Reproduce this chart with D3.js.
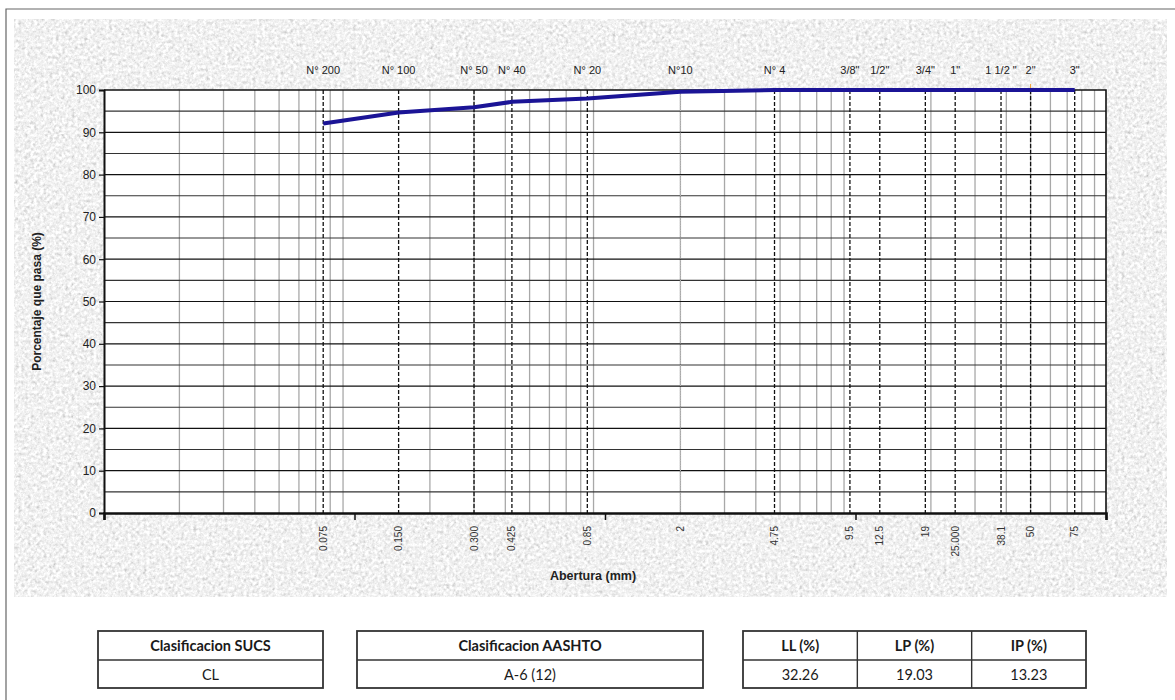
<!DOCTYPE html>
<html>
<head>
<meta charset="utf-8">
<script src="https://cdn.jsdelivr.net/npm/d3@7"></script>
<style>
  body { margin: 0; background: #fff; }
  svg { display: block; }
</style>
</head>
<body>
<svg id="chart" width="1175" height="700"></svg>
<script>
// sieve data
const sieveNames = ['N° 200', 'N° 100', 'N° 50', 'N° 40', 'N° 20', 'N°10', 'N° 4',
    '3/8"', '1/2"', '3/4"', '1"', '1 1/2 "', '2"', '3"'];
const sieveSizes = [0.075, 0.150, 0.300, 0.425, 0.85, 2, 4.75, 9.5, 12.5, 19, 25, 38.1, 50, 75];
const sizeLabels = ['0.075', '0.150', '0.300', '0.425', '0.85', '2', '4.75', '9.5', '12.5',
    '19', '25.000', '38.1', '50', '75'];
const passing = [92.1, 94.7, 95.9, 97.2, 98.0, 99.6, 100, 100, 100, 100, 100, 100, 100, 100];

const yTicks = [0, 10, 20, 30, 40, 50, 60, 70, 80, 90, 100];
const yHalfTicks = [5, 15, 25, 35, 45, 55, 65, 75, 85, 95];

// classification tables
const sucsHeader = ['Clasificacion SUCS'];
const sucsValue = ['CL'];
const aashtoHeader = ['Clasificacion AASHTO'];
const aashtoValue = ['A-6 (12)'];
const limitsHeader = ['LL (%)', 'LP (%)', 'IP (%)'];
const limitsValue = ['32.26', '19.03', '13.23'];

const svg = d3.select('#chart');
const font = 'Liberation Sans, Arial, sans-serif';

// granite-like background
const defs = svg.append('defs');
const filt = defs.append('filter').attr('id', 'granite')
    .attr('x', 0).attr('y', 0).attr('width', '100%').attr('height', '100%');
filt.append('feTurbulence').attr('type', 'fractalNoise')
    .attr('baseFrequency', 0.32).attr('numOctaves', 4).attr('seed', 7);
filt.append('feColorMatrix').attr('type', 'matrix')
    .attr('values', '0.33 0.33 0.33 0 0  0.33 0.33 0.33 0 0  0.33 0.33 0.33 0 0  0 0 0 0 1');
const ct = filt.append('feComponentTransfer');
['feFuncR', 'feFuncG', 'feFuncB'].forEach(f => {
    ct.append(f).attr('type', 'linear').attr('slope', 1.15).attr('intercept', 0.31);
});

// outer frame (top + left)
svg.append('path').attr('d', 'M6,700 V9 H1175')
    .attr('fill', 'none').attr('stroke', '#666').attr('stroke-width', 1.2);

svg.append('rect').attr('x', 14).attr('y', 19).attr('width', 1153).attr('height', 578)
    .attr('fill', '#e6e6e6').attr('filter', 'url(#granite)');

const x = d3.scaleLog().domain([0.01, 100]).range([104, 1106]);
const y = d3.scaleLinear().domain([0, 100]).range([513, 90]);

const plot = svg.append('g');
plot.append('rect').attr('x', x(0.01)).attr('y', y(100))
    .attr('width', x(100) - x(0.01)).attr('height', y(0) - y(100)).attr('fill', '#fff');

// minor vertical grid
const minor = x.ticks().filter(v => {
    const m = v / Math.pow(10, Math.floor(Math.log10(v) + 1e-9));
    return Math.round(m) !== 1;
});
plot.append('g').selectAll('line').data(minor).join('line')
    .attr('x1', d => x(d)).attr('x2', d => x(d))
    .attr('y1', y(100)).attr('y2', y(0))
    .attr('stroke', '#a8a8a8').attr('stroke-width', 1.3);

// horizontal grid
plot.append('g').selectAll('line').data(yHalfTicks).join('line')
    .attr('x1', x(0.01)).attr('x2', x(100))
    .attr('y1', d => y(d)).attr('y2', d => y(d))
    .attr('stroke', '#333').attr('stroke-width', 1.1);
plot.append('g').selectAll('line').data(yTicks.filter(d => d > 0 && d < 100)).join('line')
    .attr('x1', x(0.01)).attr('x2', x(100))
    .attr('y1', d => y(d)).attr('y2', d => y(d))
    .attr('stroke', '#111').attr('stroke-width', 1.2);

// sieve lines
plot.append('g').selectAll('line').data(sieveSizes).join('line')
    .attr('x1', d => x(d)).attr('x2', d => x(d))
    .attr('y1', y(100)).attr('y2', y(0))
    .attr('stroke', d => d === 2 ? '#bbb' : '#111')
    .attr('stroke-width', d => d === 2 ? 1 : 1.3)
    .attr('stroke-dasharray', d => d === 2 ? '1,1.5' : '4,2');

// little orange mark on 2"
plot.append('line').attr('x1', x(50)).attr('x2', x(50)).attr('y1', y(100) - 6).attr('y2', y(100))
    .attr('stroke', '#f0a030').attr('stroke-width', 1);

// frame top/right
plot.append('path')
    .attr('d', `M${x(0.01)},${y(100)} H${x(100)} V${y(0)}`)
    .attr('fill', 'none').attr('stroke', '#111').attr('stroke-width', 1.6);

// y axis
const yAxis = plot.append('g').attr('transform', `translate(${x(0.01)},0)`)
    .call(d3.axisLeft(y).tickValues(yTicks).tickSize(5).tickPadding(3));
yAxis.select('.domain').attr('stroke', '#111').attr('stroke-width', 2);
yAxis.selectAll('.tick line').attr('stroke', '#111').attr('stroke-width', 1.2);
yAxis.selectAll('text').attr('font-family', font).attr('font-size', 12).attr('fill', '#222');

// x axis
const xAxis = plot.append('g').attr('transform', `translate(0,${y(0)})`)
    .call(d3.axisBottom(x).tickValues([0.01, 0.1, 1, 10, 100]).tickSize(7).tickFormat(''));
xAxis.select('.domain').attr('stroke', '#111').attr('stroke-width', 2.6);
xAxis.selectAll('.tick line').attr('stroke', '#111').attr('stroke-width', 1.5);

// rotated size labels
plot.append('g').selectAll('text').data(sieveSizes).join('text')
    .attr('transform', d => `translate(${x(d) + 3.5},526) rotate(-90)`)
    .attr('text-anchor', 'end')
    .attr('font-family', font).attr('font-size', 10).attr('fill', '#333')
    .text((d, i) => sizeLabels[i]);

// sieve names on top
plot.append('g').selectAll('text').data(sieveSizes).join('text')
    .attr('x', d => x(d)).attr('y', 74)
    .attr('text-anchor', 'middle')
    .attr('font-family', font).attr('font-size', 11).attr('fill', '#222')
    .text((d, i) => sieveNames[i]);

// data line
const line = d3.line().x((d, i) => x(sieveSizes[i])).y(d => y(d));
plot.append('path').datum(passing)
    .attr('d', line)
    .attr('fill', 'none').attr('stroke', '#1b1496').attr('stroke-width', 4)
    .attr('stroke-linejoin', 'round');

// axis titles
svg.append('text')
    .attr('transform', `translate(41,${(y(0) + y(100)) / 2}) rotate(-90)`)
    .attr('text-anchor', 'middle')
    .attr('font-family', font).attr('font-size', 12).attr('font-weight', 'bold').attr('fill', '#222')
    .text('Porcentaje que pasa (%)');
svg.append('text')
    .attr('x', 593).attr('y', 580)
    .attr('text-anchor', 'middle')
    .attr('font-family', font).attr('font-size', 12.5).attr('font-weight', 'bold').attr('fill', '#222')
    .text('Abertura (mm)');

// tables
const tFont = 'Lato, Open Sans, sans-serif';
function drawTable(x0, x1, headers, values) {
    const cols = d3.scaleBand().domain(d3.range(headers.length)).range([x0, x1]);
    const rows = [631, 660, 688];
    const g = svg.append('g');
    g.append('rect').attr('x', x0).attr('y', rows[0])
        .attr('width', x1 - x0).attr('height', rows[2] - rows[0])
        .attr('fill', '#fff').attr('stroke', '#333').attr('stroke-width', 1.8);
    g.append('line').attr('x1', x0).attr('x2', x1).attr('y1', rows[1]).attr('y2', rows[1])
        .attr('stroke', '#333').attr('stroke-width', 1.4);
    g.selectAll('.div').data(d3.range(1, headers.length)).join('line')
        .attr('x1', i => cols(i)).attr('x2', i => cols(i))
        .attr('y1', rows[0]).attr('y2', rows[2])
        .attr('stroke', '#333').attr('stroke-width', 1.4);
    g.selectAll('.h').data(headers).join('text')
        .attr('x', (d, i) => cols(i) + cols.bandwidth() / 2).attr('y', 651)
        .attr('text-anchor', 'middle')
        .attr('font-family', tFont).attr('font-size', 14.5).attr('font-weight', 'bold').attr('fill', '#1a1a1a')
        .text(d => d);
    g.selectAll('.v').data(values).join('text')
        .attr('x', (d, i) => cols(i) + cols.bandwidth() / 2).attr('y', 680)
        .attr('text-anchor', 'middle')
        .attr('font-family', tFont).attr('font-size', 14.5).attr('fill', '#1a1a1a')
        .text(d => d);
}
drawTable(98, 323, sucsHeader, sucsValue);
drawTable(357, 703, aashtoHeader, aashtoValue);
drawTable(743, 1086, limitsHeader, limitsValue);
</script>
</body>
</html>
